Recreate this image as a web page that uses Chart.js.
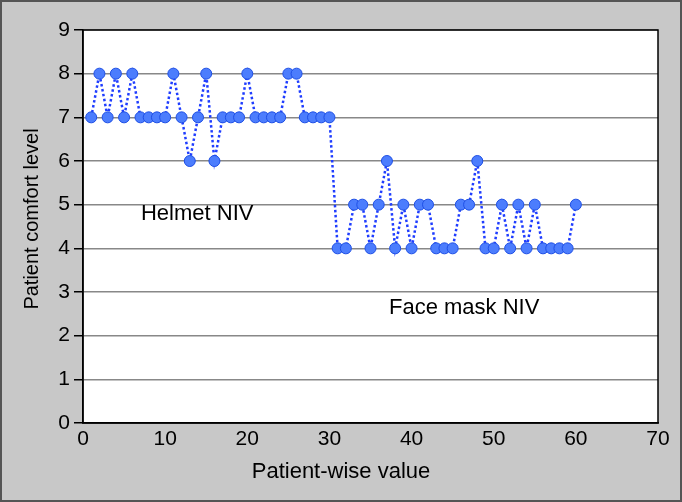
<!DOCTYPE html>
<html>
<head>
<meta charset="utf-8">
<script src="https://cdn.jsdelivr.net/npm/chart.js@4.4.1/dist/chart.umd.min.js"></script>
<style>
html,body{margin:0;padding:0;background:#c8c8c8;}
canvas{display:block;}
</style>
</head>
<body>
<canvas id="c" width="682" height="502"></canvas>
<script>
// Data
const patients = [1,2,3,4,5,6,7,8,9,10,11,12,13,14,15,16,17,18,19,20,
                  21,22,23,24,25,26,27,28,29,30,31,32,33,34,35,36,37,38,39,40,
                  41,42,43,44,45,46,47,48,49,50,51,52,53,54,55,56,57,58,59,60];
const comfort = [7,8,7,8,7,8,7,7,7,7,8,7,6,7,8,6,7,7,7,8,
                 7,7,7,7,8,8,7,7,7,7,4,4,5,5,4,5,6,4,5,4,
                 5,5,4,4,4,5,5,6,4,4,5,4,5,4,5,4,4,4,4,5];
const xTicks = [0,10,20,30,40,50,60,70];
const yTicks = [0,1,2,3,4,5,6,7,8,9];
const xTitle = "Patient-wise value";
const yTitle = "Patient comfort level";
const groupLabels = ["Helmet NIV", "Face mask NIV"];
const groupLabelAt = [[13.9, 4.79], [46.4, 2.63]];

const FONT = "'Liberation Sans', Arial, Helvetica, sans-serif";

const bgPlugin = {
  id: 'bg',
  beforeDraw(chart) {
    const ctx = chart.ctx, a = chart.chartArea;
    ctx.save();
    ctx.fillStyle = '#c8c8c8';
    ctx.fillRect(0, 0, chart.width, chart.height);
    ctx.strokeStyle = '#555555';
    ctx.lineWidth = 2;
    ctx.strokeRect(1, 1, chart.width - 2, chart.height - 2);
    ctx.fillStyle = '#ffffff';
    ctx.fillRect(a.left, a.top, a.right - a.left, a.bottom - a.top);
    ctx.restore();
  },
  afterDatasetsDraw(chart) {
    const ctx = chart.ctx, a = chart.chartArea;
    const xs = chart.scales.x, ys = chart.scales.y;
    ctx.save();
    ctx.strokeStyle = '#000';
    ctx.lineWidth = 1.5;
    ctx.strokeRect(a.left, a.top, a.right - a.left, a.bottom - a.top);
    ctx.fillStyle = '#000';
    ctx.font = '22px ' + FONT;
    ctx.textAlign = 'center';
    ctx.textBaseline = 'middle';
    groupLabels.forEach((t, i) => {
      ctx.fillText(t, xs.getPixelForValue(groupLabelAt[i][0]), ys.getPixelForValue(groupLabelAt[i][1]));
    });
    // axis titles (offset from centre as in the reference)
    ctx.font = '22px ' + FONT;
    ctx.fillText(xTitle, 341, 472);
    ctx.translate(32, 219);
    ctx.rotate(-Math.PI / 2);
    ctx.font = '20px ' + FONT;
    ctx.fillText(yTitle, 0, 0);
    ctx.restore();
  }
};

new Chart(document.getElementById('c'), {
  type: 'line',
  data: {
    datasets: [{
      data: patients.map((p, i) => ({x: p, y: comfort[i]})),
      borderColor: '#1f3dff',
      borderWidth: 2.5,
      borderDash: [2.5, 2.5],
      pointRadius: 5.5,
      pointHoverRadius: 5.5,
      pointBackgroundColor: '#4c7dfd',
      pointBorderColor: '#1e4fe6',
      pointBorderWidth: 1,
      tension: 0,
      fill: false
    }]
  },
  options: {
    responsive: false,
    animation: false,
    events: [],
    layout: {padding: {left: 8, top: 30, right: 24, bottom: 10}},
    plugins: {legend: {display: false}, tooltip: {enabled: false}},
    scales: {
      x: {
        type: 'linear',
        min: 0, max: 70,
        afterBuildTicks(s) { s.ticks = xTicks.map(v => ({value: v})); },
        afterFit(s) { s.height = 502 - 423 - 10; },
        grid: {display: false, drawTicks: false},
        border: {display: true, color: '#000', width: 1.5},
        ticks: {color: '#000', font: {family: FONT, size: 21}, padding: 4, maxRotation: 0},
        title: {display: false}
      },
      y: {
        min: 0, max: 9,
        afterBuildTicks(s) { s.ticks = yTicks.map(v => ({value: v})); },
        afterFit(s) { s.width = 83 - 8; },
        grid: {display: true, color: '#888888', lineWidth: 1.5, drawTicks: true,
               tickLength: 9, tickColor: '#000', tickWidth: 1.5},
        border: {display: true, color: '#000', width: 1.5},
        ticks: {color: '#000', font: {family: FONT, size: 21}, padding: 4},
        title: {display: false}
      }
    }
  },
  plugins: [bgPlugin]
});
</script>
</body>
</html>
